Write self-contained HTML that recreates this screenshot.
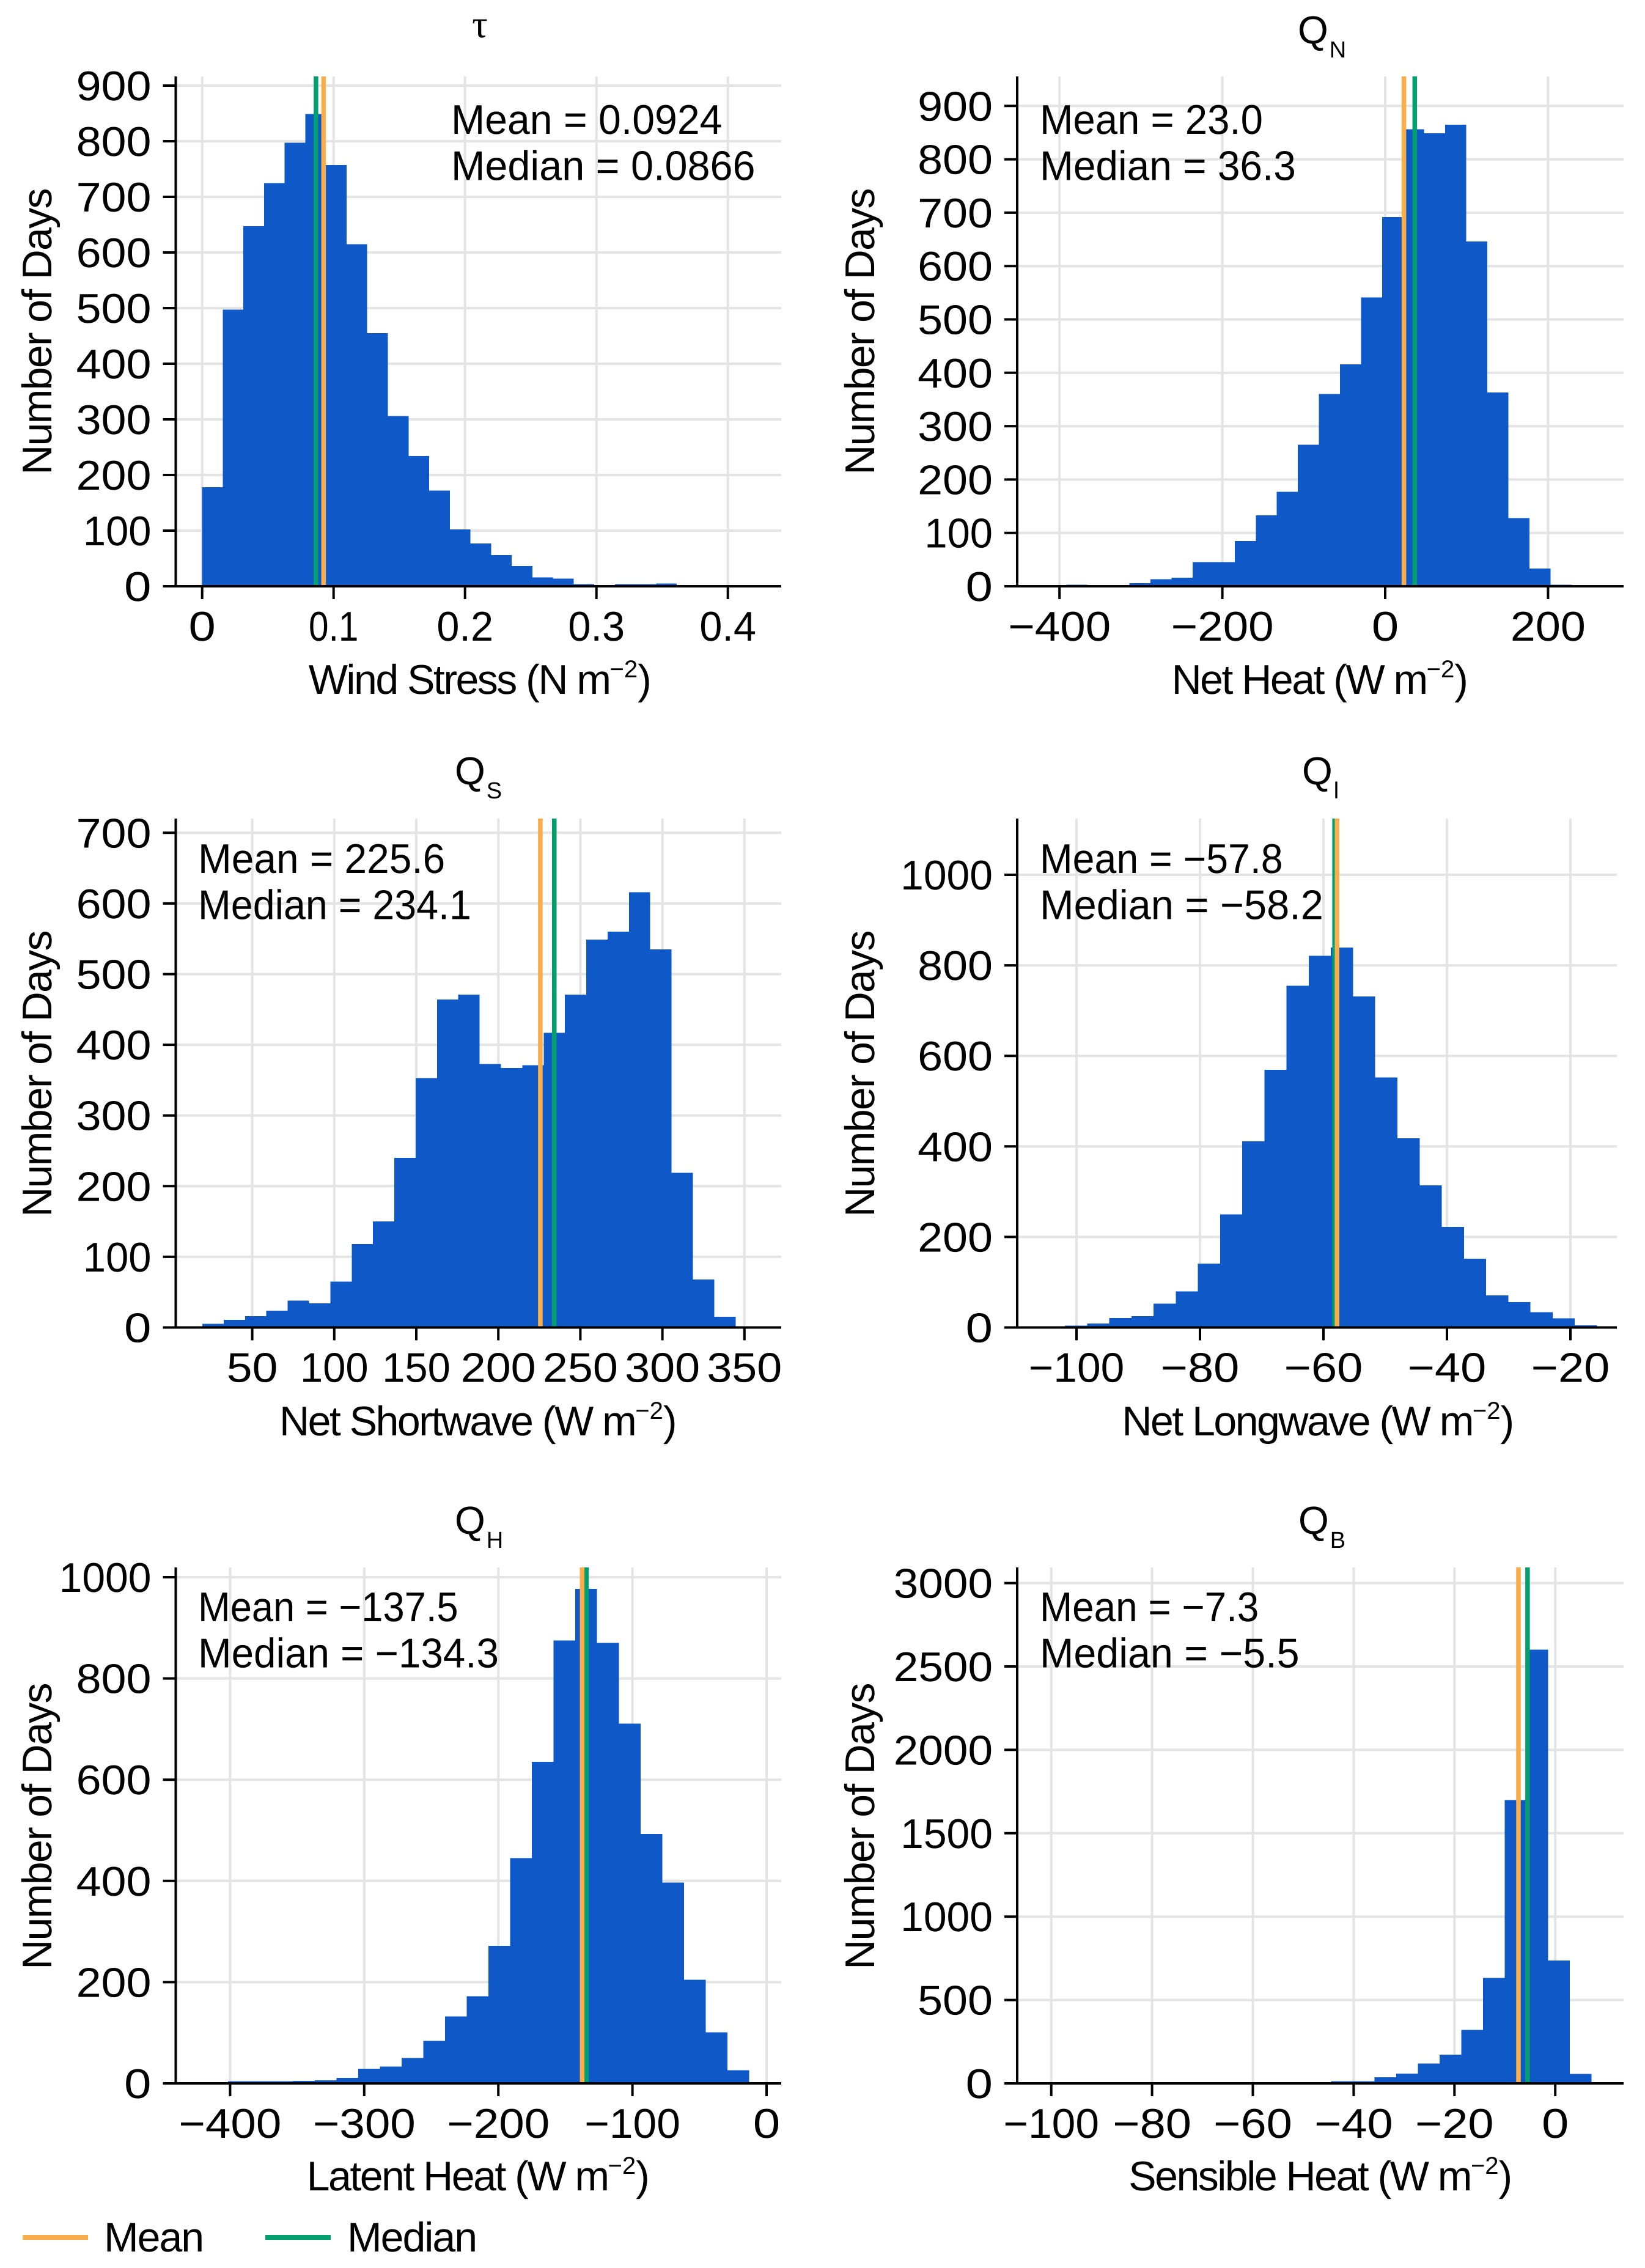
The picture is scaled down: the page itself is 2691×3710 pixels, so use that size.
<!DOCTYPE html>
<html lang="en">
<head>
<meta charset="utf-8">
<title>Surface flux histograms</title>
<style>
  html, body { margin: 0; padding: 0; background: #ffffff; }
  svg { display: block; font-family: "Liberation Sans", sans-serif; text-rendering: geometricPrecision; }
  text { fill: #000000; }
  .lbl { font-size: 68px; letter-spacing: -2.5px; }
  .tick { font-size: 68px; }
  .sup { font-size: 40px; letter-spacing: 0; }
  .qt { font-size: 64px; letter-spacing: 1px; }
  .qs { font-size: 38px; letter-spacing: 0; }
  .tau { font-family: "Liberation Serif", "DejaVu Serif", serif; font-size: 64px; }
  .ylab { letter-spacing: -1.7px; }
  .leg { letter-spacing: -2px; }
</style>
</head>
<body>
<svg id="figure" xmlns="http://www.w3.org/2000/svg" width="2691" height="3710" viewBox="0 0 2691 3710">
  <rect x="0" y="0" width="2691" height="3710" fill="#ffffff"/>
  <g id="plots"></g>

  <g>
    <text class="tau" x="785" y="61" text-anchor="middle">τ</text>
    <text class="qt" x="2123" y="71">Q<tspan class="qs" dx="1" dy="23">N</tspan></text>
    <text class="qt" x="744" y="1283">Q<tspan class="qs" dx="1" dy="23">S</tspan></text>
    <text class="qt" x="2130" y="1283">Q<tspan class="qs" dx="1" dy="23">l</tspan></text>
    <text class="qt" x="744" y="2509">Q<tspan class="qs" dx="1" dy="23">H</tspan></text>
    <text class="qt" x="2124" y="2509">Q<tspan class="qs" dx="1" dy="23">B</tspan></text>
  </g>

  <g>
    <text class="lbl" x="784" y="1135" text-anchor="middle">Wind Stress (N m<tspan class="sup" dy="-27">−2</tspan><tspan dy="27">)</tspan></text>
    <text class="lbl" x="2158" y="1135" text-anchor="middle">Net Heat (W m<tspan class="sup" dy="-27">−2</tspan><tspan dy="27">)</tspan></text>
    <text class="lbl" x="781" y="2348" text-anchor="middle">Net Shortwave (W m<tspan class="sup" dy="-27">−2</tspan><tspan dy="27">)</tspan></text>
    <text class="lbl" x="2155" y="2348" text-anchor="middle">Net Longwave (W m<tspan class="sup" dy="-27">−2</tspan><tspan dy="27">)</tspan></text>
    <text class="lbl" x="781" y="3583" text-anchor="middle">Latent Heat (W m<tspan class="sup" dy="-27">−2</tspan><tspan dy="27">)</tspan></text>
    <text class="lbl" x="2159" y="3583" text-anchor="middle">Sensible Heat (W m<tspan class="sup" dy="-27">−2</tspan><tspan dy="27">)</tspan></text>
  </g>

  <g>
    <text class="lbl ylab" text-anchor="middle" transform="translate(84 543) rotate(-90)">Number of Days</text>
    <text class="lbl ylab" text-anchor="middle" transform="translate(1430 543) rotate(-90)">Number of Days</text>
    <text class="lbl ylab" text-anchor="middle" transform="translate(84 1757) rotate(-90)">Number of Days</text>
    <text class="lbl ylab" text-anchor="middle" transform="translate(1430 1757) rotate(-90)">Number of Days</text>
    <text class="lbl ylab" text-anchor="middle" transform="translate(84 2988) rotate(-90)">Number of Days</text>
    <text class="lbl ylab" text-anchor="middle" transform="translate(1430 2988) rotate(-90)">Number of Days</text>
  </g>

  <g>
    <rect x="37" y="3656" width="107" height="8" fill="#f9ad4b"/>
    <text class="lbl leg" x="170" y="3683">Mean</text>
    <rect x="434" y="3656" width="107" height="8" fill="#049f6f"/>
    <text class="lbl leg" x="568" y="3683">Median</text>
  </g>
</svg>

<script>
// ---------- data ----------
const tauCounts = [178, 497, 647, 725, 797, 849, 757, 615, 455, 306, 234, 172, 102, 77, 56, 36, 16, 14, 4, 1, 4, 4, 5];
const tauBinStart = 0;
const tauBinWidth = 0.0157;
const tauXTicks = [0, 0.1, 0.2, 0.3, 0.4];
const tauXLabels = ['0', '0.1', '0.2', '0.3', '0.4'];
const tauYTicks = [0, 100, 200, 300, 400, 500, 600, 700, 800, 900];
const tauMean = 0.0924;
const tauMedian = 0.0866;
const tauMeanText = '0.0924';
const tauMedianText = '0.0866';

const qnCounts = [3, 0, 0, 6, 13, 16, 45, 45, 85, 133, 177, 265, 360, 416, 541, 692, 856, 849, 865, 646, 363, 128, 33, 3];
const qnBinStart = -391.6;
const qnBinWidth = 25.85;
const qnXTicks = [-400, -200, 0, 200];
const qnXLabels = ['−400', '−200', '0', '200'];
const qnYTicks = [0, 100, 200, 300, 400, 500, 600, 700, 800, 900];
const qnMean = 23.0;
const qnMedian = 36.3;
const qnMeanText = '23.0';
const qnMedianText = '36.3';

const qsCounts = [5, 11, 16, 24, 38, 34, 65, 118, 150, 240, 353, 464, 471, 373, 367, 371, 417, 471, 549, 560, 616, 535, 219, 68, 15];
const qsBinStart = 19.6;
const qsBinWidth = 13.0;
const qsXTicks = [50, 100, 150, 200, 250, 300, 350];
const qsXLabels = ['50', '100', '150', '200', '250', '300', '350'];
const qsYTicks = [0, 100, 200, 300, 400, 500, 600, 700];
const qsMean = 225.6;
const qsMedian = 234.1;
const qsMeanText = '225.6';
const qsMedianText = '234.1';

const qlCounts = [4, 9, 21, 25, 53, 80, 141, 250, 411, 569, 755, 821, 839, 731, 552, 418, 314, 222, 152, 71, 56, 34, 20, 5];
const qlBinStart = -101.87;
const qlBinWidth = 3.59;
const qlXTicks = [-100, -80, -60, -40, -20];
const qlXLabels = ['−100', '−80', '−60', '−40', '−20'];
const qlYTicks = [0, 200, 400, 600, 800, 1000];
const qlMean = -57.8;
const qlMedian = -58.2;
const qlMeanText = '−57.8';
const qlMedianText = '−58.2';

const qhCounts = [4, 4, 4, 5, 6, 11, 29, 33, 50, 84, 132, 172, 272, 445, 635, 875, 977, 870, 711, 493, 397, 205, 101, 26];
const qhBinStart = -401.6;
const qhBinWidth = 16.19;
const qhXTicks = [-400, -300, -200, -100, 0];
const qhXLabels = ['−400', '−300', '−200', '−100', '0'];
const qhYTicks = [0, 200, 400, 600, 800, 1000];
const qhMean = -137.5;
const qhMedian = -134.3;
const qhMeanText = '−137.5';
const qhMedianText = '−134.3';

const qbCounts = [12, 12, 36, 59, 119, 172, 321, 633, 1699, 2600, 737, 56];
const qbBinStart = -44.5;
const qbBinWidth = 4.31;
const qbXTicks = [-100, -80, -60, -40, -20, 0];
const qbXLabels = ['−100', '−80', '−60', '−40', '−20', '0'];
const qbYTicks = [0, 500, 1000, 1500, 2000, 2500, 3000];
const qbMean = -7.3;
const qbMedian = -5.5;
const qbMeanText = '−7.3';
const qbMedianText = '−5.5';

// ---------- drawing ----------
const NS = 'http://www.w3.org/2000/svg';
const plots = document.getElementById('plots');
const BAR = '#0e58c8', ORANGE = '#f9ad4b', GREEN = '#049f6f', GRID = '#e4e4e4', INK = '#000000';

function shape(tag, parent, props) {
  const el = document.createElementNS(NS, tag);
  for (const k in props) el.setAttribute(k, props[k]);
  parent.appendChild(el);
  return el;
}
function tickTextWidth(s) {
  let w = 5;
  for (const c of s) w += c === '1' ? 28 : c === '.' ? 9 : c === '−' ? 45 : 39.3;
  return w;
}
function noteTextWidth(prefixWidth, s) {
  let w = prefixWidth + 6;
  for (const c of s) w += c === '1' ? 28 : c === '7' ? 27 : c === '.' ? 9 : c === '−' ? 45 : 39.3;
  return w;
}

function drawPanel(cfg) {
  const g = shape('g', plots, {});
  
  

  // axis functions
  const xScale = v => cfg.xRefPx + (v - cfg.xRef) * cfg.xPxPerUnit;
  const yScale = v => cfg.bottom - v * cfg.yPxPerUnit;

  // grid
  cfg.yTicks.forEach(t => {
    const line = shape('line', g, { x1: cfg.left, x2: cfg.right, y1: yScale(t), y2: yScale(t), stroke: GRID, 'stroke-width': 4 });
    
    
  });
  cfg.xTicks.forEach(t => {
    const line = shape('line', g, { x1: xScale(t), x2: xScale(t), y1: cfg.top, y2: cfg.bottom, stroke: GRID, 'stroke-width': 4 });
    
    
  });

  // bars
  cfg.counts.forEach((c, i) => {
    const x0 = xScale(cfg.binStart + i * cfg.binWidth);
    const x1 = xScale(cfg.binStart + (i + 1) * cfg.binWidth);
    const bar = shape('rect', g, { x: x0, y: yScale(c), width: x1 - x0, height: cfg.bottom - yScale(c), fill: BAR, 'shape-rendering': 'crispEdges' });
    
    
  });

  // median & mean lines
  const medianLine = shape('line', g, { x1: xScale(cfg.median), x2: xScale(cfg.median), y1: cfg.top, y2: cfg.bottom, stroke: GREEN, 'stroke-width': 7.5 });
  
  
  const meanLine = shape('line', g, { x1: xScale(cfg.mean), x2: xScale(cfg.mean), y1: cfg.top, y2: cfg.bottom, stroke: ORANGE, 'stroke-width': 7.5 });
  
  

  // spines
  const ySpine = shape('line', g, { x1: cfg.left, x2: cfg.left, y1: cfg.top, y2: cfg.bottom + 2, stroke: INK, 'stroke-width': 4 });
  
  
  const xSpine = shape('line', g, { x1: cfg.left, x2: cfg.right, y1: cfg.bottom, y2: cfg.bottom, stroke: INK, 'stroke-width': 4 });
  
  

  // y ticks + labels
  cfg.yTicks.forEach(t => {
    const tick = shape('line', g, { x1: cfg.left - 21, x2: cfg.left, y1: yScale(t), y2: yScale(t), stroke: INK, 'stroke-width': 4 });
    
    
    const s = String(t);
    const label = shape('text', g, { class: 'tick', x: cfg.left - 40, y: yScale(t) + 24, 'text-anchor': 'end', textLength: tickTextWidth(s), lengthAdjust: 'spacingAndGlyphs' });
    label.textContent = s;
    
    
  });

  // x ticks + labels
  cfg.xTicks.forEach((t, i) => {
    const tick = shape('line', g, { x1: xScale(t), x2: xScale(t), y1: cfg.bottom, y2: cfg.bottom + 21, stroke: INK, 'stroke-width': 4 });
    
    
    const s = cfg.xLabels[i];
    const label = shape('text', g, { class: 'tick', x: xScale(t), y: cfg.bottom + 89, 'text-anchor': 'middle', textLength: tickTextWidth(s), lengthAdjust: 'spacingAndGlyphs' });
    label.textContent = s;
    
    
  });

  // annotation
  const meanNote = shape('text', g, { class: 'tick', x: cfg.noteX, y: cfg.noteY, textLength: noteTextWidth(232, cfg.meanText), lengthAdjust: 'spacingAndGlyphs' });
  meanNote.textContent = 'Mean = ' + cfg.meanText;
  
  
  const medianNote = shape('text', g, { class: 'tick', x: cfg.noteX, y: cfg.noteY + 75.5, textLength: noteTextWidth(286, cfg.medianText), lengthAdjust: 'spacingAndGlyphs' });
  medianNote.textContent = 'Median = ' + cfg.medianText;
  
  
}

drawPanel({ id: 'tau', counts: tauCounts, binStart: tauBinStart, binWidth: tauBinWidth, xTicks: tauXTicks, xLabels: tauXLabels, yTicks: tauYTicks, mean: tauMean, median: tauMedian, meanText: tauMeanText, medianText: tauMedianText,
  left: 287.5, right: 1278, top: 125, bottom: 959, xRef: 0, xRefPx: 330.7, xPxPerUnit: 2150, yPxPerUnit: 0.91, noteX: 738, noteY: 219 });
drawPanel({ id: 'qn', counts: qnCounts, binStart: qnBinStart, binWidth: qnBinWidth, xTicks: qnXTicks, xLabels: qnXLabels, yTicks: qnYTicks, mean: qnMean, median: qnMedian, meanText: qnMeanText, medianText: qnMedianText,
  left: 1664, right: 2656, top: 125, bottom: 959, xRef: 0, xRefPx: 2266, xPxPerUnit: 1.332, yPxPerUnit: 0.873, noteX: 1701, noteY: 219 });
drawPanel({ id: 'qs', counts: qsCounts, binStart: qsBinStart, binWidth: qsBinWidth, xTicks: qsXTicks, xLabels: qsXLabels, yTicks: qsYTicks, mean: qsMean, median: qsMedian, meanText: qsMeanText, medianText: qsMedianText,
  left: 287.5, right: 1278, top: 1339, bottom: 2171.5, xRef: 50, xRefPx: 412.6, xPxPerUnit: 2.684, yPxPerUnit: 1.156, noteX: 324, noteY: 1428 });
drawPanel({ id: 'ql', counts: qlCounts, binStart: qlBinStart, binWidth: qlBinWidth, xTicks: qlXTicks, xLabels: qlXLabels, yTicks: qlYTicks, mean: qlMean, median: qlMedian, meanText: qlMeanText, medianText: qlMedianText,
  left: 1664, right: 2645, top: 1339, bottom: 2171.5, xRef: -100, xRefPx: 1761, xPxPerUnit: 10.1, yPxPerUnit: 0.7405, noteX: 1701, noteY: 1428 });
drawPanel({ id: 'qh', counts: qhCounts, binStart: qhBinStart, binWidth: qhBinWidth, xTicks: qhXTicks, xLabels: qhXLabels, yTicks: qhYTicks, mean: qhMean, median: qhMedian, meanText: qhMeanText, medianText: qhMedianText,
  left: 287.5, right: 1278, top: 2564, bottom: 3408, xRef: 0, xRefPx: 1254, xPxPerUnit: 2.194, yPxPerUnit: 0.828, noteX: 324, noteY: 2652 });
drawPanel({ id: 'qb', counts: qbCounts, binStart: qbBinStart, binWidth: qbBinWidth, xTicks: qbXTicks, xLabels: qbXLabels, yTicks: qbYTicks, mean: qbMean, median: qbMedian, meanText: qbMeanText, medianText: qbMedianText,
  left: 1664, right: 2656, top: 2564, bottom: 3408, xRef: 0, xRefPx: 2544.2, xPxPerUnit: 8.245, yPxPerUnit: 0.2728, noteX: 1701, noteY: 2652 });
</script>
</body>
</html>
